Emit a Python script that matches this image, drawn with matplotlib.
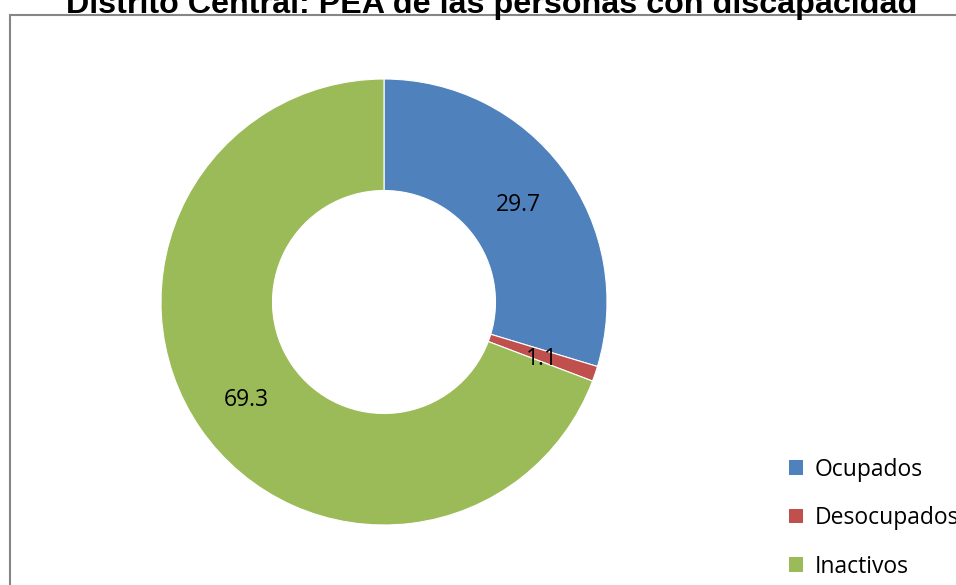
import matplotlib
matplotlib.use("Agg")
import matplotlib.pyplot as plt
from matplotlib.patches import Patch, Rectangle

# datos
categorias = ["Ocupados", "Desocupados", "Inactivos"]
valores = [29.7, 1.1, 69.3]
etiquetas = ["29.7", "1.1", "69.3"]
colores = ["#4F81BD", "#C0504D", "#9BBB59"]

W, H = 956, 585
fig = plt.figure(figsize=(W / 100, H / 100), dpi=100)

# marco gris del grafico (sigue fuera de la imagen a la derecha y abajo)
fig.patches.append(Rectangle((10 / W, -0.1), 1.2, 1.1 - 15 / H, transform=fig.transFigure,
                             fill=False, edgecolor="#868686", linewidth=1.5))

# titulo (cortado arriba como en el original)
fig.text(492 / W, 1 - 13 / H, "Distrito Central: PEA de las personas con discapacidad",
         ha="center", va="baseline", fontsize=23.2, fontweight="bold",
         family="Liberation Sans")

# dona
cx, cy, r = 384, 302, 223
ax = fig.add_axes([(cx - r) / W, (H - cy - r) / H, 2 * r / W, 2 * r / H])
ax.set_aspect("equal")
wedges, textos = ax.pie(valores, colors=colores, startangle=90, counterclock=False,
                        radius=1.0, labels=etiquetas, labeldistance=0.75,
                        wedgeprops=dict(width=0.5, edgecolor="white", linewidth=0.8),
                        textprops=dict(fontsize=16.5, family="Open Sans",
                                       ha="center", va="center_baseline"))
ax.set_xlim(-1.0, 1.0)
ax.set_ylim(-1.0, 1.0)
ax.axis("off")

# leyenda
handles = [Patch(facecolor=c, edgecolor="none") for c in colores]
fig.legend(handles, categorias, loc="upper left", bbox_to_anchor=(768 / W, 1 - 437 / H),
           frameon=False, handlelength=0.61, handleheight=0.61, handletextpad=0.52,
           labelspacing=1.07, prop=dict(family="Open Sans", size=16.5))

fig.savefig("out.png", dpi=100)
